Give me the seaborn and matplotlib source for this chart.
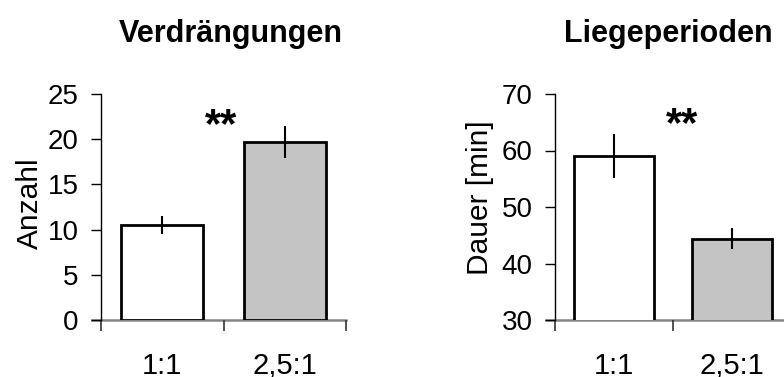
import matplotlib
matplotlib.use("Agg")
import matplotlib.pyplot as plt
import seaborn as sns
import pandas as pd
from matplotlib.ticker import FixedLocator

sns.set_style("white")
plt.rcParams['font.family'] = ['Liberation Sans', 'DejaVu Sans']
plt.rcParams.update({"text.color": "black", "axes.labelcolor": "black",
                     "xtick.color": "black", "ytick.color": "black"})

# Group labels (ratio)
categories = ["1:1", "2,5:1"]

# Verdrängungen: count per group with standard error
displ_mean = [10.5, 19.7]
displ_err = [0.95, 1.75]

# Liegeperioden: duration in minutes with standard error
lying_mean = [59.1, 44.4]
lying_err = [3.9, 1.8]

bar_colors = ["#ffffff", "#c4c4c4"]

fig = plt.figure(figsize=(7.84, 3.77), dpi=100)

panels = [
    dict(pos=[101 / 784, 1 - 320 / 377, 245 / 784, 226 / 377],
         mean=displ_mean, err=displ_err, ylim=(0, 25), yticks=[0, 5, 10, 15, 20, 25],
         ylabel="Anzahl", title="Verdrängungen", label_xy=(-0.232, 0.518), title_x=0.53,
         star_xy=(0.484, 21.5)),
    dict(pos=[555 / 784, 1 - 320 / 377, 236 / 784, 226 / 377],
         mean=lying_mean, err=lying_err, ylim=(30, 70), yticks=[30, 40, 50, 60, 70],
         ylabel="Dauer [min]", title="Liegeperioden", label_xy=(-0.258, 0.54), title_x=0.479,
         star_xy=(0.576, 64.5)),
]

for p in panels:
    ax = fig.add_axes(p["pos"])
    df = pd.DataFrame({"Gruppe": categories, "Wert": p["mean"]})
    sns.barplot(data=df, x="Gruppe", y="Wert", hue="Gruppe", palette=bar_colors,
                errorbar=None, width=0.67, edgecolor="black", linewidth=2.0,
                legend=False, ax=ax)
    ax.errorbar(range(len(categories)), p["mean"], yerr=p["err"], fmt="none",
                ecolor="black", elinewidth=1.5, capsize=0)

    ax.set_xlim(-0.5, 1.5)
    ax.set_ylim(*p["ylim"])
    ax.set_yticks(p["yticks"])
    ax.set_xlabel("")
    ax.set_ylabel(p["ylabel"], fontsize=21.5)
    ax.yaxis.set_label_coords(*p["label_xy"])

    for side in ("top", "right"):
        ax.spines[side].set_visible(False)
    ax.spines["left"].set_color("black")
    ax.spines["left"].set_linewidth(1.0)
    ax.spines["bottom"].set_color("#858585")
    ax.spines["bottom"].set_linewidth(1.8)
    ax.spines["bottom"].set_bounds(-0.575, 1.5)
    ax.spines["bottom"].set_zorder(0.5)

    ax.tick_params(axis="y", direction="out", length=7, width=1.0, color="black",
                   labelsize=20, pad=9, left=True)
    ax.tick_params(axis="x", which="major", length=0, labelsize=21, pad=23)
    ax.xaxis.set_minor_locator(FixedLocator([-0.5, 0.5, 1.5]))
    ax.tick_params(axis="x", which="minor", direction="out", length=8, width=1.2,
                   color="#333333", bottom=True)

    ax.text(p["title_x"], 1.23, p["title"], transform=ax.transAxes, ha="center",
            va="baseline", fontsize=22, fontweight="bold")
    sx, sy = p["star_xy"]
    ax.text(sx, sy, "**", ha="center", va="center", fontsize=30, fontweight="bold")

fig.savefig("out.png", dpi=100)
